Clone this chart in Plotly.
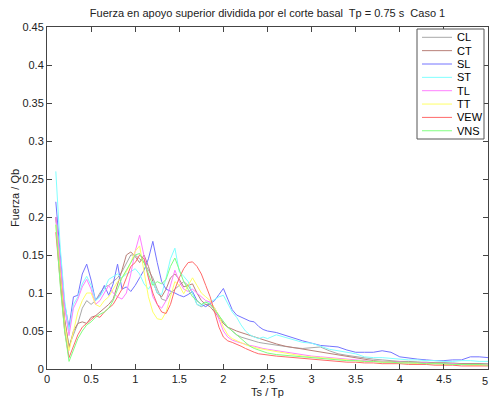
import plotly.graph_objects as go

ts_tp = [0.10, 0.15, 0.20, 0.25, 0.30, 0.35, 0.40, 0.45, 0.50, 0.55,
         0.60, 0.65, 0.70, 0.75, 0.80, 0.85, 0.90, 0.95, 1.00, 1.05,
         1.10, 1.15, 1.20, 1.25, 1.30, 1.35, 1.40, 1.45, 1.50, 1.55,
         1.60, 1.65, 1.70, 1.75, 1.80, 1.85, 1.90, 1.95, 2.00, 2.05,
         2.10, 2.15, 2.20, 2.25, 2.30, 2.35, 2.40, 2.45, 2.50,
         2.6, 2.7, 2.8, 2.9, 3.0, 3.1, 3.2, 3.3, 3.4, 3.5, 3.6, 3.7, 3.8,
         3.9, 4.0, 4.1, 4.2, 4.3, 4.4, 4.5, 4.6, 4.7, 4.8, 4.9, 5.0]

CL = [0.200, 0.130, 0.065, 0.030, 0.045, 0.060, 0.080, 0.090, 0.085, 0.090,
      0.100, 0.108, 0.110, 0.115, 0.120, 0.128, 0.140, 0.150, 0.150, 0.145,
      0.140, 0.130, 0.120, 0.105, 0.092, 0.090, 0.100, 0.105, 0.110, 0.115,
      0.110, 0.100, 0.085, 0.082, 0.085, 0.085, 0.080, 0.070, 0.060, 0.055,
      0.050, 0.045, 0.042, 0.040, 0.038, 0.036, 0.035, 0.034, 0.033,
      0.031, 0.029, 0.028, 0.027, 0.028, 0.029, 0.024, 0.020, 0.018, 0.016, 0.014, 0.013, 0.012,
      0.011, 0.010, 0.010, 0.009, 0.009, 0.008, 0.008, 0.008, 0.007, 0.007, 0.007, 0.007]

CT = [0.200, 0.130, 0.065, 0.028, 0.050, 0.060, 0.062, 0.060, 0.068, 0.070,
      0.075, 0.080, 0.085, 0.092, 0.110, 0.130, 0.150, 0.154, 0.148, 0.140,
      0.150, 0.135, 0.115, 0.100, 0.095, 0.105, 0.120, 0.125, 0.118, 0.108,
      0.110, 0.112, 0.100, 0.090, 0.085, 0.082, 0.075, 0.068, 0.060, 0.055,
      0.052, 0.050, 0.048, 0.046, 0.044, 0.042, 0.040, 0.038, 0.036,
      0.033, 0.030, 0.028, 0.026, 0.024, 0.022, 0.020, 0.018, 0.016, 0.014, 0.012, 0.011, 0.010,
      0.010, 0.009, 0.009, 0.009, 0.008, 0.008, 0.008, 0.007, 0.007, 0.007, 0.007, 0.006]

SL = [0.220, 0.155, 0.085, 0.055, 0.095, 0.097, 0.125, 0.138, 0.117, 0.090,
      0.097, 0.110, 0.097, 0.112, 0.138, 0.105, 0.108, 0.102, 0.110, 0.120,
      0.130, 0.145, 0.168, 0.140, 0.115, 0.105, 0.103, 0.100, 0.097, 0.095,
      0.098, 0.102, 0.090, 0.085, 0.082, 0.086, 0.090, 0.098, 0.106, 0.092,
      0.078, 0.071, 0.068, 0.066, 0.063, 0.062, 0.056, 0.052, 0.050,
      0.048, 0.044, 0.040, 0.037, 0.034, 0.031, 0.030, 0.029, 0.025, 0.022, 0.022, 0.022, 0.024,
      0.022, 0.016, 0.014, 0.013, 0.012, 0.011, 0.011, 0.012, 0.012, 0.016, 0.016, 0.015]

ST = [0.260, 0.160, 0.090, 0.050, 0.085, 0.095, 0.112, 0.122, 0.110, 0.090,
      0.095, 0.105, 0.118, 0.122, 0.125, 0.120, 0.125, 0.128, 0.132, 0.125,
      0.112, 0.105, 0.115, 0.100, 0.098, 0.120, 0.145, 0.159, 0.128, 0.122,
      0.115, 0.100, 0.085, 0.083, 0.088, 0.088, 0.092, 0.095, 0.097, 0.085,
      0.075, 0.068, 0.058, 0.050, 0.045, 0.042, 0.040, 0.042, 0.040,
      0.045, 0.042, 0.038, 0.035, 0.034, 0.030, 0.026, 0.024, 0.022, 0.020, 0.016, 0.015, 0.015,
      0.014, 0.013, 0.012, 0.012, 0.011, 0.011, 0.010, 0.010, 0.011, 0.011, 0.010, 0.010]

TL = [0.200, 0.140, 0.080, 0.044, 0.080, 0.092, 0.108, 0.118, 0.105, 0.085,
      0.090, 0.100, 0.110, 0.100, 0.095, 0.092, 0.100, 0.125, 0.155, 0.176,
      0.150, 0.120, 0.095, 0.085, 0.080, 0.090, 0.110, 0.130, 0.115, 0.105,
      0.102, 0.105, 0.100, 0.095, 0.090, 0.088, 0.080, 0.065, 0.050, 0.042,
      0.038, 0.036, 0.034, 0.032, 0.031, 0.030, 0.028, 0.027, 0.026,
      0.024, 0.022, 0.020, 0.018, 0.017, 0.016, 0.015, 0.014, 0.013, 0.012, 0.011, 0.010, 0.010,
      0.009, 0.009, 0.008, 0.008, 0.008, 0.007, 0.007, 0.007, 0.006, 0.006, 0.006, 0.006]

TT = [0.190, 0.120, 0.060, 0.024, 0.050, 0.075, 0.090, 0.100, 0.100, 0.085,
      0.082, 0.090, 0.095, 0.105, 0.115, 0.120, 0.128, 0.140, 0.155, 0.162,
      0.130, 0.095, 0.075, 0.066, 0.065, 0.075, 0.095, 0.115, 0.110, 0.099,
      0.110, 0.120, 0.110, 0.100, 0.095, 0.090, 0.080, 0.070, 0.055, 0.045,
      0.040, 0.037, 0.034, 0.032, 0.030, 0.028, 0.027, 0.026, 0.025,
      0.022, 0.020, 0.018, 0.017, 0.016, 0.015, 0.014, 0.013, 0.012, 0.011, 0.010, 0.010, 0.009,
      0.009, 0.008, 0.008, 0.007, 0.007, 0.007, 0.006, 0.006, 0.006, 0.005, 0.005, 0.005]

VEW = [0.180, 0.110, 0.050, 0.015, 0.030, 0.045, 0.055, 0.060, 0.065, 0.070,
       0.068, 0.075, 0.080, 0.085, 0.095, 0.105, 0.120, 0.135, 0.140, 0.150,
       0.145, 0.120, 0.100, 0.085, 0.075, 0.073, 0.085, 0.105, 0.120, 0.132,
       0.140, 0.141, 0.135, 0.125, 0.110, 0.095, 0.075, 0.055, 0.042, 0.037,
       0.035, 0.033, 0.030, 0.027, 0.024, 0.022, 0.020, 0.019, 0.018,
       0.017, 0.016, 0.015, 0.014, 0.013, 0.012, 0.011, 0.010, 0.009, 0.009, 0.008, 0.008, 0.007,
       0.007, 0.007, 0.006, 0.006, 0.006, 0.005, 0.005, 0.005, 0.004, 0.004, 0.004, 0.004]

VNS = [0.190, 0.110, 0.050, 0.010, 0.025, 0.040, 0.050, 0.058, 0.062, 0.068,
       0.072, 0.075, 0.080, 0.090, 0.105, 0.120, 0.130, 0.140, 0.150, 0.152,
       0.140, 0.125, 0.110, 0.115, 0.112, 0.118, 0.135, 0.146, 0.130, 0.115,
       0.105, 0.095, 0.090, 0.085, 0.088, 0.085, 0.078, 0.070, 0.062, 0.055,
       0.050, 0.045, 0.040, 0.035, 0.030, 0.027, 0.025, 0.023, 0.021,
       0.019, 0.018, 0.017, 0.016, 0.015, 0.014, 0.013, 0.012, 0.011, 0.011, 0.010, 0.010, 0.009,
       0.009, 0.008, 0.008, 0.008, 0.007, 0.007, 0.007, 0.006, 0.006, 0.006, 0.006, 0.005]

names = ["CL", "CT", "SL", "ST", "TL", "TT", "VEW", "VNS"]
series = [CL, CT, SL, ST, TL, TT, VEW, VNS]
colors = ["#a8a8a8", "#b98078", "#7474ff", "#80ffff", "#ff80ff", "#ffff66", "#ff6a6a", "#80ff80"]

x_ticks = [0, 0.5, 1, 1.5, 2, 2.5, 3, 3.5, 4, 4.5, 5]
x_tick_text = ["0", "0.5", "1", "1.5", "2", "2.5", "3", "3.5", "4", "4.5", "5"]
y_ticks = [0, 0.05, 0.1, 0.15, 0.2, 0.25, 0.3, 0.35, 0.4, 0.45]
y_tick_text = ["0", "0.05", "0.1", "0.15", "0.2", "0.25", "0.3", "0.35", "0.4", "0.45"]

W, H = 489, 405
ML, MR, MT, MB = 47, 1, 27, 36
PW, PH = W - ML - MR, H - MT - MB
FONT = "Liberation Sans, Arial"

fig = go.Figure()
for name, ys, col in zip(names, series, colors):
    fig.add_trace(go.Scatter(x=ts_tp, y=ys, mode="lines", name=name,
                             line=dict(color=col, width=1), showlegend=False))

def px2paper(px, py):
    return (px - ML) / PW, (H - MB - py) / PH

# manual MATLAB-style legend
shapes = []
annotations = []
bx0, by0 = px2paper(417, 29)
bx1, by1 = px2paper(484, 139)
shapes.append(dict(type="rect", xref="paper", yref="paper", x0=bx0, y0=by1, x1=bx1, y1=by0,
                   line=dict(color="#555555", width=1), fillcolor="white", layer="above"))
for i, (name, col) in enumerate(zip(names, colors)):
    cy = 37.3 + i * 13.35
    lx0, ly = px2paper(422, cy)
    lx1, _ = px2paper(452, cy)
    tx, _ = px2paper(455, cy)
    shapes.append(dict(type="line", xref="paper", yref="paper", x0=lx0, x1=lx1, y0=ly, y1=ly,
                       line=dict(color=col, width=1), layer="above"))
    annotations.append(dict(xref="paper", yref="paper", x=tx, y=ly, text=name, showarrow=False,
                            xanchor="left", yanchor="middle",
                            font=dict(family=FONT, size=11, color="black")))

# last x tick label, kept inside the page
annotations.append(dict(xref="x", yref="paper", x=x_ticks[-1], y=0, yshift=-4, xshift=2,
                        text=x_tick_text[-1], showarrow=False, xanchor="right", yanchor="top",
                        font=dict(family=FONT, size=11, color="#222")))

axis_common = dict(showline=True, linecolor="#444444", linewidth=1, mirror="ticks",
                   ticks="inside", ticklen=5, tickcolor="#444444", showgrid=False,
                   zeroline=False, tickfont=dict(family=FONT, size=11, color="#222"))

fig.update_layout(
    width=W, height=H,
    margin=dict(l=ML, r=MR, t=MT, b=MB),
    paper_bgcolor="white", plot_bgcolor="white",
    title=dict(text="Fuerza en apoyo superior dividida por el corte basal  Tp = 0.75 s  Caso 1",
               x=(ML + PW / 2) / W, xanchor="center", y=1 - 13 / H, yanchor="middle",
               font=dict(family=FONT, size=11, color="#222")),
    xaxis=dict(range=[0, 5], tickvals=x_ticks, ticktext=x_tick_text,
               title=dict(text="Ts / Tp", standoff=4, font=dict(family=FONT, size=11, color="#222")),
               **axis_common),
    yaxis=dict(range=[0, 0.45], tickvals=y_ticks, ticktext=y_tick_text,
               title=dict(text="Fuerza / Qb", standoff=0, font=dict(family=FONT, size=11, color="#222")),
               **axis_common),
    shapes=shapes, annotations=annotations,
)

fig.write_html("out.html")
